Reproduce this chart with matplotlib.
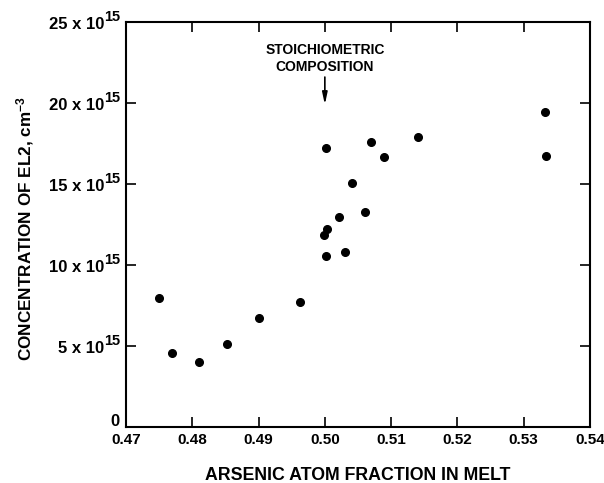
import matplotlib
matplotlib.use("Agg")
import matplotlib.pyplot as plt

# arsenic atom fraction in melt vs EL2 concentration (units of 1e15 cm^-3)
as_fraction = [0.4750, 0.4769, 0.4810, 0.4852, 0.4901, 0.4963,
               0.5001, 0.5030, 0.4999, 0.5003, 0.5021, 0.5061,
               0.5041, 0.5001, 0.5069, 0.5089, 0.5141, 0.5332, 0.5334]
el2_conc = [7.98, 4.59, 3.99, 5.12, 6.71, 7.72,
            10.57, 10.82, 11.85, 12.22, 12.94, 13.25,
            15.08, 17.24, 17.61, 16.65, 17.92, 19.43, 16.73]

xticks = [0.47, 0.48, 0.49, 0.50, 0.51, 0.52, 0.53, 0.54]
xtick_labels = ["0.47", "0.48", "0.49", "0.50", "0.51", "0.52", "0.53", "0.54"]
yticks = [0, 5, 10, 15, 20, 25]
ytick_mant = ["0", "5 x 10", "10 x 10", "15 x 10", "20 x 10", "25 x 10"]
ytick_exp = ["", "15", "15", "15", "15", "15"]

plt.rcParams["font.family"] = ["Liberation Sans", "DejaVu Sans"]
plt.rcParams["font.weight"] = "bold"
plt.rcParams["mathtext.fontset"] = "custom"
plt.rcParams["mathtext.rm"] = "Liberation Sans:bold"
plt.rcParams["mathtext.it"] = "Liberation Sans:bold"
plt.rcParams["mathtext.bf"] = "Liberation Sans:bold"

fig = plt.figure(figsize=(6.04, 4.83), dpi=100)
ax = fig.add_axes([0.2086, 0.1159, 0.7682, 0.8386])

ax.plot(as_fraction, el2_conc, "o", color="black", markersize=5.5)

ax.set_xlim(0.47, 0.54)
ax.set_ylim(0, 25)
ax.set_xticks(xticks)
ax.set_xticklabels(xtick_labels, fontsize=11, fontweight="bold")
ax.set_yticks(yticks)
ax.set_yticklabels([])
ax.tick_params(direction="in", top=True, right=True, length=7, width=1.2)
ax.tick_params(axis="x", pad=4)
for sp in ax.spines.values():
    sp.set_linewidth(1.5)

# y tick labels drawn by hand: big superscript like the original
for yv, mant, exp in zip(yticks, ytick_mant, ytick_exp):
    if exp:
        sup = ax.annotate(exp, xy=(0, yv), xycoords=("axes fraction", "data"),
                          xytext=(-3.8, 0.5), textcoords="offset points",
                          ha="right", va="baseline", fontsize=10.5,
                          fontweight="bold")
        ax.annotate(mant, xy=(0, yv), xycoords=(sup, "data"),
                    xytext=(0, -4.8), textcoords="offset points",
                    ha="right", va="baseline", fontsize=12, fontweight="bold")
    else:
        ax.annotate(mant, xy=(0, yv), xycoords=("axes fraction", "data"),
                    xytext=(-5, 0.5), textcoords="offset points",
                    ha="right", va="baseline", fontsize=12, fontweight="bold")

ax.set_xlabel("ARSENIC ATOM FRACTION IN MELT", fontsize=12.8,
              fontweight="bold", labelpad=15)
ax.set_ylabel("CONCENTRATION OF EL2, cm$^{-3}$", fontsize=12.3,
              fontweight="bold")
ax.yaxis.set_label_coords(-0.195, 0.49)

ax.text(0.50, 23.73, "STOICHIOMETRIC\nCOMPOSITION", ha="center", va="top",
        fontsize=10, fontweight="bold", linespacing=1.35)
ax.annotate("", xy=(0.50, 19.9), xytext=(0.50, 21.6),
            arrowprops=dict(arrowstyle="-|>,head_length=0.7,head_width=0.15",
                            color="black", lw=1.2, shrinkA=0, shrinkB=0))

fig.savefig("out.png", dpi=100)
